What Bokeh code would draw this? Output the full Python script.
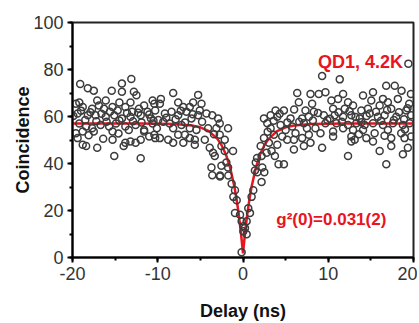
from bokeh.plotting import figure
from bokeh.models import Range1d, SingleIntervalTicker, Label, PrintfTickFormatter
from bokeh.embed import file_html
from bokeh.resources import INLINE

# measured coincidence counts (delay in ns, counts)
delay = [
    -19.1, -18.2, -17.5, -15.4, -14.2, -13.1, -14.2, -12.8, -12.5, -10.6, -14.5, -13.2, -16.1, -17.1, -19.2, -19.6,
    -18.8, -17.7, -16.9, -16.3, -15.3, -14.7, -13.8, -13.0, -12.2, -11.6, -11.2, -10.4, -10.3, -19.4, -18.2, -17.3,
    -16.1, -15.1, -14.2, -13.2, -12.0, -10.8,
    -19.2, -18.4, -17.7, -16.7, -15.7, -14.9, -13.8, -12.6, -11.6, -10.6, -10.1,
    -19.6, -19.4, -18.8, -17.5, -15.3, -13.4, -11.6, -10.4, -10.3,
    -18.4, -17.1, -15.3, -13.8, -13.2, -12.6, -12.0, -15.1, -12.0, -18.8, -14.0,
    -19.9, -19.0, -18.5, -17.9, -17.2, -16.6, -16.0, -15.6, -14.5, -13.6, -12.9, -12.3, -11.9, -11.0, -10.5,
    -18.1, -16.4, -14.6, -11.0,
    -8.19, -5.26, -9.63, -9.75, -7.6, -5.85, -7.0, -6.24, -4.87, -5.07, -9.16, -8.38, -7.6, -6.63, -6.04, -5.26,
    -4.29, -2.92, -2.73, -9.94, -9.35, -8.19, -7.21, -6.24, -5.46, -4.09, -3.12, -1.75,
    -7.6, -6.82, -6.24, -5.65, -4.48, -8.77, -8.19, -7.0, -2.73, -2.14, -3.9, -3.51, -3.31, -2.53, -2.14, -1.17,
    -3.7, -2.53, -1.95, -1.75, -5.65, -9.75,
    -9.0, -8.6, -7.9, -7.3, -6.8, -5.9, -4.8, -3.6, -3.4,
    -3.6, -2.7, -2.69, -1.72, -1.33, -0.94, -1.13, -0.74, -0.94, -0.35, -0.16, 0.04, 0.43, -0.16, 0.04, 0.23,
    0.43, 0.62, 0.82, 1.01, 1.21, 2.18, 1.4, 1.68, 2.5, 2.26, 1.5, 1.65, 2.18, 2.77, 3.35, 3.74, 4.17, 4.8,
    9.28, 6.36, 7.92, 8.89, 9.67, 6.55, 8.11, 4.8, 3.82, 7.33, 8.31, 3.24, 4.02, 2.46, 5.58, 6.94, 7.72, 9.48,
    2.85, 3.24, 4.41, 5.77, 7.14, 8.5, 9.67, 5.0, 6.16, 3.63, 4.6, 5.19, 5.97, 6.94, 7.72, 7.92, 9.09, 9.28,
    3.04, 2.46, 4.02, 2.07, 5.97, 7.14,
    2.9, 3.6, 4.3, 5.2, 6.0, 6.6, 7.5, 8.2, 8.8, 9.9,
    11.35, 16.8, 17.8, 18.6, 19.7, 15.25, 11.74, 10.37, 11.15, 12.32, 14.08, 15.05, 16.42, 17.0, 18.17, 19.5,
    10.57, 11.94, 12.91, 13.88, 14.66, 16.03, 17.39, 19.15, 10.76, 11.74, 12.71, 13.69, 14.86, 15.83, 16.61, 17.98,
    19.73, 10.96, 12.32, 13.3, 14.27, 15.25, 16.42, 17.59, 18.76, 19.54, 10.57, 11.74, 12.91, 14.08, 15.44, 17.0,
    18.56, 10.57, 12.71, 13.1, 14.47, 15.25, 17.39, 18.95, 19.73, 19.34, 16.03, 17.39, 12.32, 16.81, 18.76, 12.71,
    19.4,
    10.2, 11.2, 11.6, 12.5, 13.2, 13.9, 14.5, 15.6, 16.2, 16.9, 17.7, 18.3, 18.9, 19.3, 13.6, 16.6, 19.0,
]
counts = [
    73.8, 72.0, 71.0, 71.0, 74.0, 76.0, 70.5, 70.5, 69.0, 66.8, 66.0, 66.0, 66.8, 66.8, 66.0, 65.4,
    64.0, 63.3, 64.7, 63.3, 64.0, 62.6, 64.0, 62.0, 63.3, 64.7, 62.0, 65.4, 62.6, 61.3, 60.5, 60.5,
    59.9, 60.5, 59.2, 59.9, 60.5, 59.2,
    57.0, 55.7, 55.0, 56.4, 55.7, 57.0, 55.7, 56.4, 54.3, 57.0, 55.0,
    52.9, 50.8, 53.6, 53.6, 53.6, 54.3, 53.6, 52.2, 50.8,
    47.4, 46.7, 50.1, 48.8, 49.4, 48.8, 50.1, 43.2, 42.2, 48.0, 47.4,
    60.2, 62.5, 58.5, 61.8, 58.0, 61.2, 57.8, 62.0, 58.3, 61.5, 58.0, 61.6, 57.5, 60.8, 58.2,
    52.0, 50.5, 52.8, 51.5,
    70.0, 69.2, 67.5, 65.4, 66.0, 66.0, 64.0, 64.0, 65.4, 62.6, 61.3, 62.0, 60.5, 62.0, 59.2, 60.5,
    61.3, 59.2, 57.0, 58.5, 57.8, 55.0, 56.4, 55.0, 54.3, 55.0, 55.0, 55.0,
    52.2, 52.2, 50.8, 50.1, 50.1, 50.1, 48.8, 48.8, 52.2, 50.1, 46.7, 44.6, 43.2, 47.4, 45.3, 45.3,
    38.3, 39.0, 40.4, 38.3, 48.0, 50.8,
    59.5, 57.0, 58.8, 62.5, 57.5, 61.0, 57.8, 60.5, 52.5,
    35.0, 34.5, 34.9, 34.9, 31.4, 28.6, 25.8, 24.4, 18.9, 18.2, 15.4, 13.3, 9.9, 2.2, 11.2, 12.6,
    15.4, 21.0, 18.9, 25.8, 28.6, 32.1, 37.0, 36.3, 36.3, 38.3, 40.4, 42.3, 43.2, 44.6, 45.3, 43.2, 39.7, 39.7,
    77.2, 70.0, 69.6, 69.6, 70.3, 66.1, 65.4, 62.6, 62.6, 62.6, 62.0, 60.5, 59.9, 59.2, 59.2, 59.2, 59.9, 60.5,
    57.1, 55.0, 56.4, 55.7, 57.1, 55.0, 57.1, 54.3, 52.9, 52.2, 51.5, 50.1, 50.1, 50.8, 52.2, 48.8, 52.9, 46.7,
    48.8, 50.8, 48.0, 47.4, 46.0, 47.4,
    53.5, 58.2, 61.2, 57.5, 63.0, 57.8, 55.0, 58.3, 61.5, 58.5,
    75.8, 73.1, 73.1, 71.0, 69.6, 70.3, 69.6, 66.8, 67.5, 66.1, 68.9, 66.8, 67.5, 66.1, 67.5, 65.4,
    63.3, 63.3, 64.7, 62.6, 63.3, 64.7, 63.3, 62.6, 60.5, 59.9, 60.5, 59.2, 61.3, 59.9, 60.5, 59.9,
    60.5, 57.1, 56.4, 57.1, 56.4, 57.1, 56.4, 57.1, 56.4, 57.1, 53.6, 55.0, 54.3, 54.3, 52.9, 54.3,
    52.9, 51.5, 51.5, 50.1, 50.8, 49.4, 50.8, 50.8, 51.5, 46.7, 45.3, 47.4, 43.2, 39.7, 43.9, 49.4,
    82.5,
    59.0, 61.8, 57.8, 62.2, 59.8, 57.6, 60.2, 62.0, 58.2, 62.8, 58.5, 61.8, 58.8, 63.5, 52.5, 51.8, 54.5,
]

# fitted g2 curve
fit_delay = [-20, -12, -8, -6, -5, -4, -3, -2.5, -2, -1.5, -1, -0.75, -0.5, -0.25, 0,
             0.25, 0.5, 0.75, 1, 1.5, 2, 2.5, 3, 4, 5, 6, 8, 12, 20]
fit_counts = [57.0, 57.0, 56.8, 56.2, 55.4, 53.8, 50.5, 47.7, 43.8, 38.1, 30.0, 24.7, 18.4, 10.8, 1.8,
              10.8, 18.4, 24.7, 30.0, 38.1, 43.8, 47.7, 50.5, 53.8, 55.4, 56.2, 56.8, 57.0, 57.0]

x_ticks_interval = 10
y_ticks_interval = 20

FONT = "Liberation Sans"
RED = "#e8141e"

p = figure(width=417, height=323, output_backend="svg", toolbar_location=None,
           x_range=Range1d(-20, 20), y_range=Range1d(0, 100),
           min_border_left=72, min_border_right=4, min_border_top=22, min_border_bottom=61)
p.grid.visible = False
p.background_fill_color = "white"
p.border_fill_color = "white"
p.outline_line_color = "#222222"
p.outline_line_width = 2

p.xaxis.ticker = SingleIntervalTicker(interval=x_ticks_interval, num_minor_ticks=2)
p.yaxis.ticker = SingleIntervalTicker(interval=y_ticks_interval, num_minor_ticks=2)
for ax in (p.xaxis[0], p.yaxis[0]):
    ax.formatter = PrintfTickFormatter(format="%d")
    ax.axis_line_width = 2
    ax.axis_line_color = "black"
    ax.major_tick_line_width = 2
    ax.major_tick_out = 5
    ax.major_tick_in = 0
    ax.minor_tick_line_width = 2
    ax.minor_tick_out = 3
    ax.minor_tick_in = 0
    ax.major_label_text_font = FONT
    ax.major_label_text_font_size = "18px"
    ax.major_label_text_color = "#333333"
    ax.major_label_standoff = 4
    ax.axis_label_text_font = FONT
    ax.axis_label_text_font_size = "18px"
    ax.axis_label_text_font_style = "bold"
    ax.axis_label_text_color = "#111111"
p.xaxis.axis_label = "Delay (ns)"
p.yaxis.axis_label = "Coincidence"
p.xaxis.axis_label_standoff = 18
p.yaxis.axis_label_standoff = -3

p.line(fit_delay, fit_counts, line_color=RED, line_width=2.5)
p.scatter(delay, counts, marker="circle", size=7, fill_color=None,
          line_color="#3c3c3c", line_width=1.5)

p.add_layout(Label(x=8.8, y=83.3, text="QD1, 4.2K", text_color=RED, text_font=FONT,
                   text_font_size="18px", text_font_style="bold", text_baseline="middle"))
p.add_layout(Label(x=3.9, y=16.3, text="g²(0)=0.031(2)", text_color=RED, text_font=FONT,
                   text_font_size="17px", text_font_style="bold", text_baseline="middle"))

open("out.html", "w").write(file_html(p, INLINE))
